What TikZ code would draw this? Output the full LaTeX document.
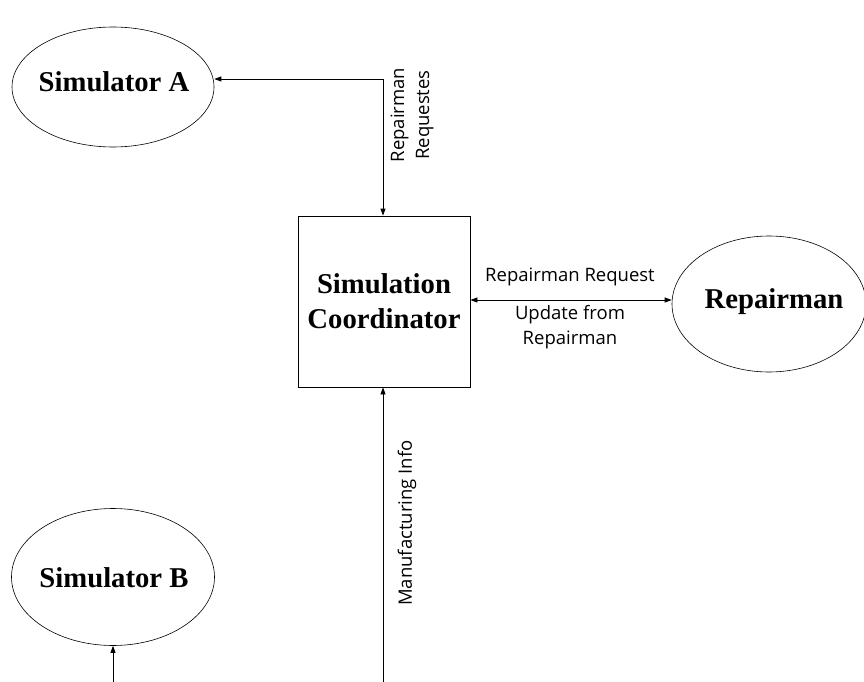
\documentclass[tikz,border=0pt]{standalone}
\usepackage{fontspec}
\setmainfont{Liberation Serif}
\newfontfamily\lblfont{Open Sans}
\usetikzlibrary{arrows.meta,shapes.geometric}
\begin{document}
\begin{tikzpicture}[x=1pt,y=-1pt,
  ent/.style={draw,ellipse,line width=0.6pt,inner sep=0pt},
  enttext/.style={font=\fontsize{28.7}{32}\selectfont\bfseries,inner sep=0pt},
  proc/.style={draw,rectangle,line width=0.8pt,font=\fontsize{28.7}{35}\selectfont\bfseries,align=center,inner sep=0pt},
  lbl/.style={font=\lblfont\fontsize{18.5}{25}\selectfont,align=center,inner sep=0pt},
  flow/.style={line width=0.8pt,-{Triangle[length=7pt,width=5pt]}},
  biflow/.style={line width=0.8pt,{Triangle[length=7pt,width=5pt]}-{Triangle[length=7pt,width=5pt]}}]
\useasboundingbox (0,0) rectangle (864,682);
\node[ent,minimum width=202pt,minimum height=120pt] (simA) at (113,87) {};
\node[enttext] (simAt) at (114,82) {Simulator A};
\node[ent,minimum width=203pt,minimum height=137pt] (simB) at (113,577) {};
\node[enttext] (simBt) at (114,578) {Simulator B};
\node[ent,minimum width=194pt,minimum height=136pt] (rep) at (769,304) {};
\node[enttext] (rept) at (774,302) {Repairman};
\node[proc,minimum width=172pt,minimum height=171pt] (coord) at (384,301.5) {Simulation\\Coordinator};
\coordinate (corner) at (383,79);
\coordinate (bot) at (383,682);
\coordinate (botB) at (113,682);
\draw[flow] (corner) -- (simA.east |- corner);
\draw[flow] (corner) -- (corner |- coord.north);
\draw[flow] (bot) -- (bot |- coord.south);
\draw[flow] (botB) -- (simB.south);
\draw[biflow] (coord.east |- 0,300) -- (rep.west |- 0,300);
\node[lbl,rotate=90] (lblA) at (412,115) {Repairman\\Requestes};
\node[lbl] (lblR1) at (570,277) {Repairman Request};
\node[lbl] (lblR2) at (570,327) {Update from\\Repairman};
\node[lbl,rotate=90] (lblM) at (407,523) {Manufacturing Info};
\end{tikzpicture}
\end{document}
